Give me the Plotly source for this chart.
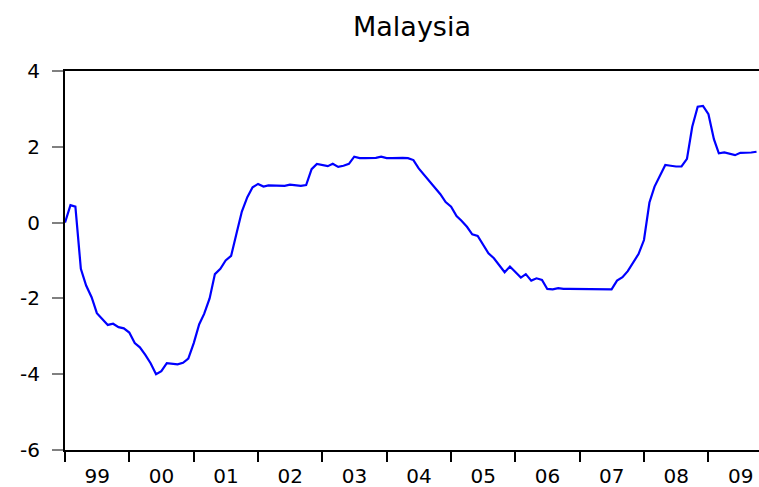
import pandas as pd
import plotly.graph_objects as go

start_month = "1999-01-01"
n_months = 130
title_text = "Malaysia"
y_ticks = [-6, -4, -2, 0, 2, 4]

values = [
    0.00, 0.46, 0.42, -1.22, -1.66, -1.97, -2.39, -2.55, -2.70, -2.67, -2.76, -2.79,
    -2.90, -3.18, -3.29, -3.49, -3.71, -4.00, -3.92, -3.71, -3.73, -3.74, -3.70, -3.59,
    -3.18, -2.68, -2.41, -2.00, -1.36, -1.22, -1.00, -0.88, -0.28, 0.29, 0.67, 0.93,
    1.02, 0.95, 0.98, 0.97, 0.97, 0.97, 1.00, 0.99, 0.97, 0.99, 1.41, 1.55,
    1.52, 1.49, 1.55, 1.47, 1.50, 1.55, 1.74, 1.70, 1.70, 1.70, 1.71, 1.74,
    1.70, 1.70, 1.71, 1.71, 1.70, 1.65, 1.43, 1.26, 1.06, 0.92, 0.75, 0.54,
    0.42, 0.17, 0.05, -0.11, -0.31, -0.35, -0.56, -0.81, -0.94, -1.12, -1.31, -1.16,
    -1.31, -1.45, -1.36, -1.53, -1.47, -1.51, -1.75, -1.76, -1.73, -1.75, -1.75, -1.75,
    -1.75, -1.76, -1.76, -1.75, -1.75, -1.75, -1.76, -1.53, -1.44, -1.28, -1.06, -0.83,
    -0.46, 0.53, 0.95, 1.23, 1.52, 1.50, 1.48, 1.48, 1.68, 2.53, 3.06, 3.08,
    2.86, 2.20, 1.83, 1.85, 1.81, 1.78, 1.84, 1.84, 1.85, 1.87,
]

dates = pd.date_range(start_month, periods=n_months, freq="MS")

fig = go.Figure()
fig.add_trace(go.Scatter(
    x=dates, y=values, mode="lines",
    line=dict(color="#0000FF", width=2.2),
    showlegend=False, hoverinfo="skip",
))

font_family = "DejaVu Sans, Arial, sans-serif"

fig.update_layout(
    width=759, height=487,
    margin=dict(l=65, r=0, t=71, b=37, autoexpand=False),
    paper_bgcolor="white", plot_bgcolor="white",
    title=dict(text=title_text, x=0.5, xref="paper", y=1 - 27 / 487, yref="container",
               xanchor="center", yanchor="middle", automargin=False,
               font=dict(family=font_family, size=27, color="black")),
    font=dict(family=font_family, color="black"),
)

fig.update_xaxes(
    type="date",
    range=["1999-01-01", "2009-10-15"],
    tick0="1999-01-01", dtick="M12", tickformat="%y",
    ticklabelmode="period",
    ticks="outside", ticklen=10, tickwidth=2, tickcolor="black",
    ticklabelstandoff=-3,
    showline=True, linecolor="black", linewidth=2, mirror=True,
    showgrid=False, zeroline=False, automargin=False,
    tickfont=dict(family=font_family, size=20, color="black"),
)

fig.update_yaxes(
    range=[-6, 4], tickvals=y_ticks, ticktext=[str(v) for v in y_ticks],
    ticks="outside", ticklen=11, tickwidth=2, tickcolor="#808080",
    ticklabelstandoff=8,
    showline=True, linecolor="black", linewidth=2, mirror=False,
    showgrid=False, zeroline=False, automargin=False,
    tickfont=dict(family=font_family, size=20, color="black"),
)

fig.write_html(
    "out.html",
    config={"displayModeBar": False},
    post_script="document.body.style.margin='0';document.body.style.overflow='hidden';",
)
